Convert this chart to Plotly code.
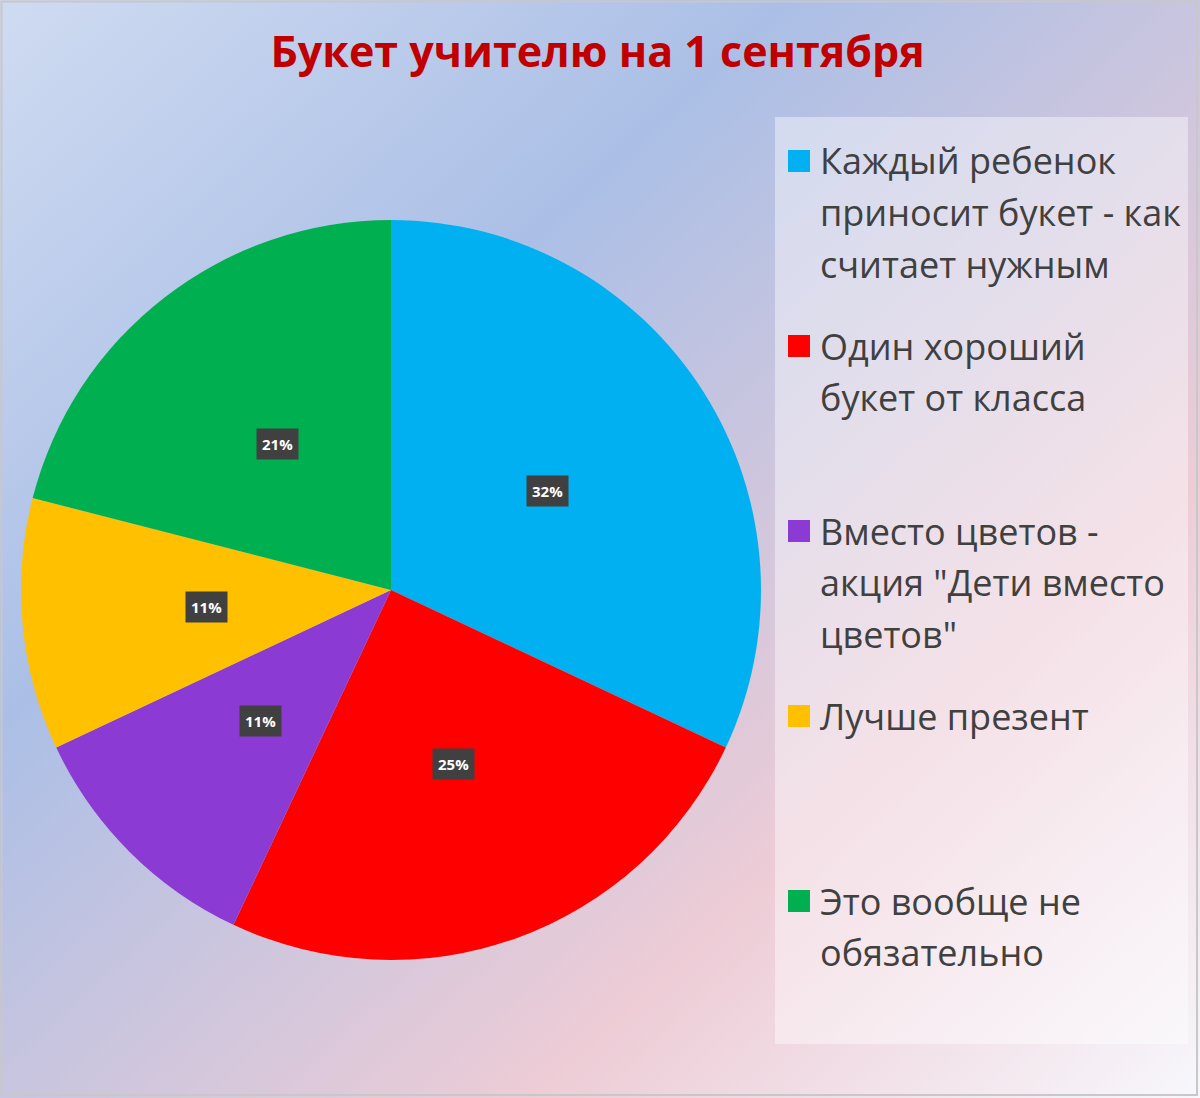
import base64
import math
import plotly.graph_objects as go

# ---- data ----
labels = [
    "Каждый ребенок<br>приносит букет - как<br>считает нужным",
    "Один хороший<br>букет от класса",
    "Вместо цветов -<br>акция \"Дети вместо<br>цветов\"",
    "Лучше презент",
    "Это вообще не<br>обязательно",
]
values = [32, 25, 11, 11, 21]
colors = ["#00B0F0", "#FF0000", "#8B3BD4", "#FFC000", "#00B050"]
title_text = "Букет учителю на 1 сентября"

W, H = 1200, 1098
FONT = "Open Sans"

# pie geometry (pixels)
cx_px, cy_px, R = 391, 590, 370
dom_x = [(cx_px - R) / W, (cx_px + R) / W]
dom_y = [(H - (cy_px + R)) / H, (H - (cy_px - R)) / H]

fig = go.Figure()
fig.add_trace(go.Pie(
    labels=[l.replace("<br>", " ") for l in labels],
    values=values,
    marker=dict(colors=colors, line=dict(width=0)),
    sort=False,
    direction="clockwise",
    rotation=0,
    textinfo="none",
    hole=0,
    domain=dict(x=dom_x, y=dom_y),
    showlegend=False,
))

# background gradient as SVG
svg = f'''<svg xmlns="http://www.w3.org/2000/svg" width="{W}" height="{H}" preserveAspectRatio="none">
<defs><linearGradient id="g" x1="0" y1="0" x2="1" y2="1">
<stop offset="0" stop-color="#cfdbf1"/>
<stop offset="0.33" stop-color="#abbfe6"/>
<stop offset="0.72" stop-color="#edccd6"/>
<stop offset="1" stop-color="#f7f7fc"/>
</linearGradient></defs>
<rect width="{W}" height="{H}" fill="url(#g)"/></svg>'''
src = "data:image/svg+xml;base64," + base64.b64encode(svg.encode()).decode()

annotations = []
shapes = []

# data labels computed from values
total = sum(values)
cum = 0
for v in values:
    mid = (cum + v / 2) / total * 2 * math.pi
    cum += v
    px = cx_px + 0.5 * R * math.sin(mid)
    py = cy_px - 0.5 * R * math.cos(mid)
    annotations.append(dict(
        x=px / W, y=1 - py / H, xref="paper", yref="paper",
        xanchor="center", yanchor="middle",
        text=f"<b>{round(v / total * 100)}%</b>", showarrow=False,
        font=dict(family=FONT, size=15, color="white"),
        bgcolor="#404040", borderpad=5,
    ))

# legend box
shapes.append(dict(type="rect", xref="paper", yref="paper",
                   x0=775 / W, x1=1188 / W, y0=1 - 1044 / H, y1=1 - 117 / H,
                   fillcolor="rgba(255,255,255,0.42)", line=dict(width=0), layer="below"))
# outer border
shapes.append(dict(type="rect", xref="paper", yref="paper",
                   x0=1.5 / W, x1=1197 / W, y0=1 - 1095 / H, y1=1 - 1.5 / H,
                   fillcolor="rgba(0,0,0,0)", line=dict(width=2, color="#c8c8c8")))

# legend entries
first_y, item_step, line_step = 161, 185, 51.5
for i, (lab, col) in enumerate(zip(labels, colors)):
    y0 = first_y + i * item_step
    shapes.append(dict(type="rect", xref="paper", yref="paper",
                       x0=788 / W, x1=810 / W, y0=1 - (y0 + 11) / H, y1=1 - (y0 - 11) / H,
                       fillcolor=col, line=dict(width=0)))
    for j, line in enumerate(lab.split("<br>")):
        annotations.append(dict(
            x=818 / W, y=1 - (y0 + j * line_step) / H, xref="paper", yref="paper",
            xanchor="left", yanchor="middle", text=line, showarrow=False,
            font=dict(family=FONT, size=36, color="#404040"),
        ))

fig.update_layout(
    width=W, height=H,
    margin=dict(l=0, r=0, t=0, b=0),
    paper_bgcolor="white",
    plot_bgcolor="rgba(0,0,0,0)",
    title=dict(text=f"<b>{title_text}</b>", x=0.498, xanchor="center",
               y=1 - 52 / H, yanchor="middle",
               font=dict(family=FONT, size=43, color="#C00000")),
    images=[dict(source=src, xref="paper", yref="paper", x=0, y=1,
                 sizex=1, sizey=1, sizing="stretch", layer="below",
                 xanchor="left", yanchor="top")],
    shapes=shapes,
    annotations=annotations,
)

fig.write_html("out.html", config={"displayModeBar": False},
               post_script="document.body.style.margin='0';")
